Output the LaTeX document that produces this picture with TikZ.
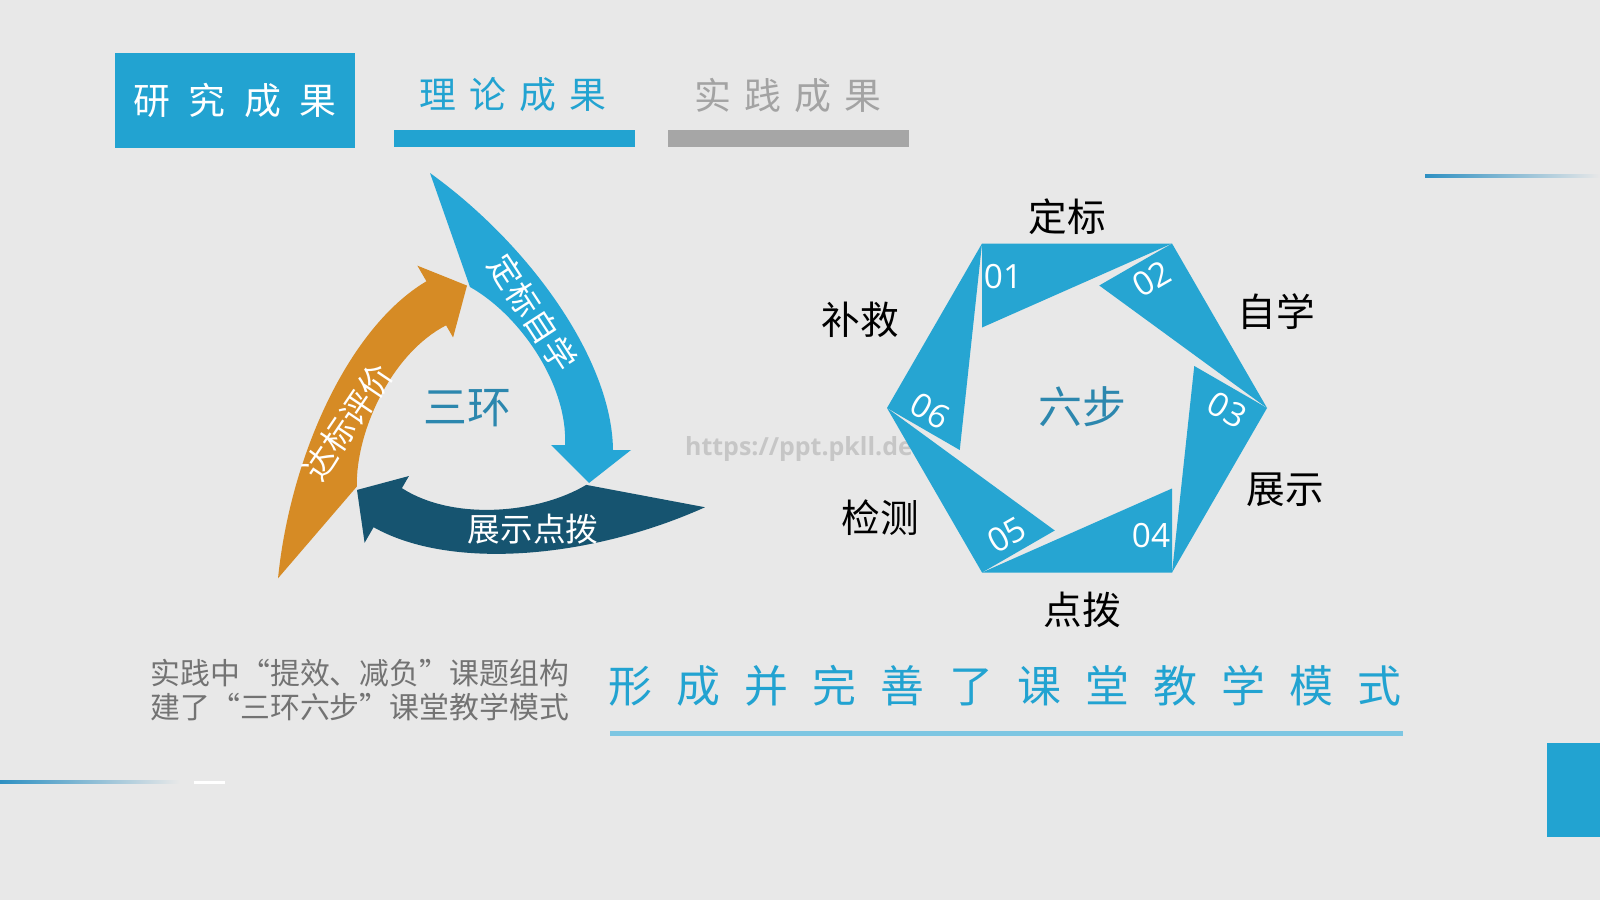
\documentclass[tikz,border=0pt]{standalone}
\usepackage{fontspec}
\setmainfont{Open Sans}
\newfontfamily\cjk{Noto Sans CJK SC}
\usepackage{xcolor}
\usepackage{tikz}
\definecolor{bgGrey}{HTML}{E8E8E8}
\definecolor{tabBlue}{HTML}{22A3D1}
\definecolor{tabGrey}{HTML}{A6A6A6}
\definecolor{tabGreyText}{HTML}{A3A3A3}
\definecolor{hexBlue}{HTML}{26A5D2}
\definecolor{ringBlue}{HTML}{25A6D6}
\definecolor{ringOrange}{HTML}{D68B25}
\definecolor{ringNavy}{HTML}{165470}
\definecolor{centerTeal}{HTML}{2C87AE}
\definecolor{noteGrey}{HTML}{737373}
\definecolor{underBlue}{HTML}{7DC6E2}
\definecolor{lineBlue}{HTML}{2E90C2}
\definecolor{markGrey}{HTML}{C6C6C6}
\tikzset{
  tabbox/.style={rectangle, fill=tabBlue, minimum width=2.40cm, minimum height=0.95cm, inner sep=0pt, text=white, font=\cjk\fontsize{10.5}{12}\selectfont},
  tabtext/.style={font=\cjk\fontsize{10.5}{12}\selectfont, text=#1, inner sep=0pt},
  tabbar/.style={rectangle, fill=#1, minimum width=2.41cm, minimum height=0.17cm, inner sep=0pt},
  stepnum/.style={font=\fontsize{9.5}{11}\selectfont, text=white, inner sep=0pt},
  steplabel/.style={font=\cjk\fontsize{11}{13}\selectfont, text=black, inner sep=0pt},
  arrowlabel/.style={font=\cjk\fontsize{9.3}{11}\selectfont, text=white, inner sep=0pt},
  centerlabel/.style={font=\cjk\fontsize{12.5}{14}\selectfont, text=centerTeal, inner sep=0pt},
  % --- one ring arrow, drawn round the ring centre ---
  ringarrow/.pic={
    \fill[#1] (-0.41,2.465) .. controls (0.59,1.745) and (1.41,0.595) .. (1.42,-0.305)
      -- (1.60,-0.305) -- (1.18,-0.635) -- (0.80,-0.255) -- (0.94,-0.255)
      .. controls (0.97,0.345) and (0.49,1.045) .. (-0.01,1.325) -- cycle;
  },
}

\begin{document}
\begin{tikzpicture}[x=1cm,y=1cm]

  % ---------- page ----------
  \fill[bgGrey] (0,0) rectangle (16,9);
  \useasboundingbox (0,0) rectangle (16,9);

  % ---------- tabs ----------
  \node[tabbox] (resBox) at (2.35,7.995) {研\hspace{0.5em}究\hspace{0.5em}成\hspace{0.5em}果};
  \node[tabtext=tabBlue]     (theoryTab)   at (5.13,8.05) {理\hspace{0.35em}论\hspace{0.35em}成\hspace{0.35em}果};
  \node[tabtext=tabGreyText] (practiceTab) at (7.88,8.05) {实\hspace{0.35em}践\hspace{0.35em}成\hspace{0.35em}果};
  \node[tabbar=tabBlue] (theoryBar)   at (5.145,7.615) {};
  \node[tabbar=tabGrey] (practiceBar) at (7.885,7.615) {};

  % ---------- decorations ----------
  \shade[left color=lineBlue, right color=bgGrey] (14.25,7.22) rectangle (16,7.25);
  \shade[left color=lineBlue, right color=bgGrey] (0,1.165) rectangle (1.8,1.195);
  \fill[white] (1.94,1.165) rectangle (2.25,1.19);
  \fill[tabBlue] (15.47,0.63) rectangle (16,1.57);

  % ---------- watermark ----------
  \node[font=\bfseries\fontsize{7.1}{8}\selectfont, text=markGrey, inner sep=0pt] (mark) at (7.99,4.51) {https://ppt.pkll.de};

  % ---------- three rings ----------
  \coordinate (ringC) at (4.71,4.805);
  \pic at (ringC) {ringarrow=ringBlue};
  \pic[rotate=-120] at (ringC) {ringarrow=ringNavy};
  \pic[rotate=120] at (ringC) {ringarrow=ringOrange};

  \node[arrowlabel, rotate=-57] (setLearn) at (5.33,5.87) {定标自学};
  \node[arrowlabel, rotate=56]  (evalRing) at (3.48,4.78) {达标评价};
  \node[arrowlabel]             (showRing) at (5.33,3.71) {展示点拨};
  \node[centerlabel]            (ringName) at (4.67,4.92) {三环};

  % ---------- six steps ----------
  \fill[hexBlue] (9.82,6.565)  -- (11.72,6.565) -- (9.82,5.725)    -- cycle;
  \fill[hexBlue] (11.72,6.565) -- (12.67,4.92)  -- (10.9925,6.145) -- cycle;
  \fill[hexBlue] (12.67,4.92)  -- (11.72,3.275) -- (11.9425,5.34)  -- cycle;
  \fill[hexBlue] (11.72,3.275) -- (9.82,3.275)  -- (11.72,4.115)   -- cycle;
  \fill[hexBlue] (9.82,3.275)  -- (8.87,4.92)   -- (10.5475,3.695) -- cycle;
  \fill[hexBlue] (8.87,4.92)   -- (9.82,6.565)  -- (9.5975,4.50)   -- cycle;

  \node[stepnum]             (n1) at (10.03,6.23) {01};
  \node[stepnum, rotate=30]  (n2) at (11.52,6.21) {02};
  \node[stepnum, rotate=-30] (n3) at (12.27,4.90) {03};
  \node[stepnum]             (n4) at (11.51,3.64) {04};
  \node[stepnum, rotate=30]  (n5) at (10.07,3.65) {05};
  \node[stepnum, rotate=-30] (n6) at (9.30,4.89)  {06};

  \node[steplabel] (setGoal) at (10.675,6.83) {定标};
  \node[steplabel] (selfStu) at (12.76,5.88)  {自学};
  \node[steplabel] (present) at (12.85,4.10)  {展示};
  \node[steplabel] (guide)   at (10.82,2.90)  {点拨};
  \node[steplabel] (check)   at (8.80,3.82)   {检测};
  \node[steplabel] (remedy)  at (8.60,5.80)   {补救};
  \node[centerlabel] (stepName) at (10.82,4.93) {六步};

  % ---------- summary ----------
  \node[font=\cjk\fontsize{8.5}{9.7}\selectfont, text=noteGrey, align=left, anchor=west, inner sep=0pt] (note) at (1.50,2.10)
    {实践中“提效、减负”课题组构\\建了“三环六步”课堂教学模式};
  \node[font=\cjk\fontsize{12.5}{14}\selectfont, text=tabBlue, inner sep=0pt] (result) at (10.05,2.14)
    {形\hspace{0.55em}成\hspace{0.55em}并\hspace{0.55em}完\hspace{0.55em}善\hspace{0.55em}了\hspace{0.55em}课\hspace{0.55em}堂\hspace{0.55em}教\hspace{0.55em}学\hspace{0.55em}模\hspace{0.55em}式};
  \fill[underBlue] (6.10,1.64) rectangle (14.03,1.69);

\end{tikzpicture}
\end{document}
